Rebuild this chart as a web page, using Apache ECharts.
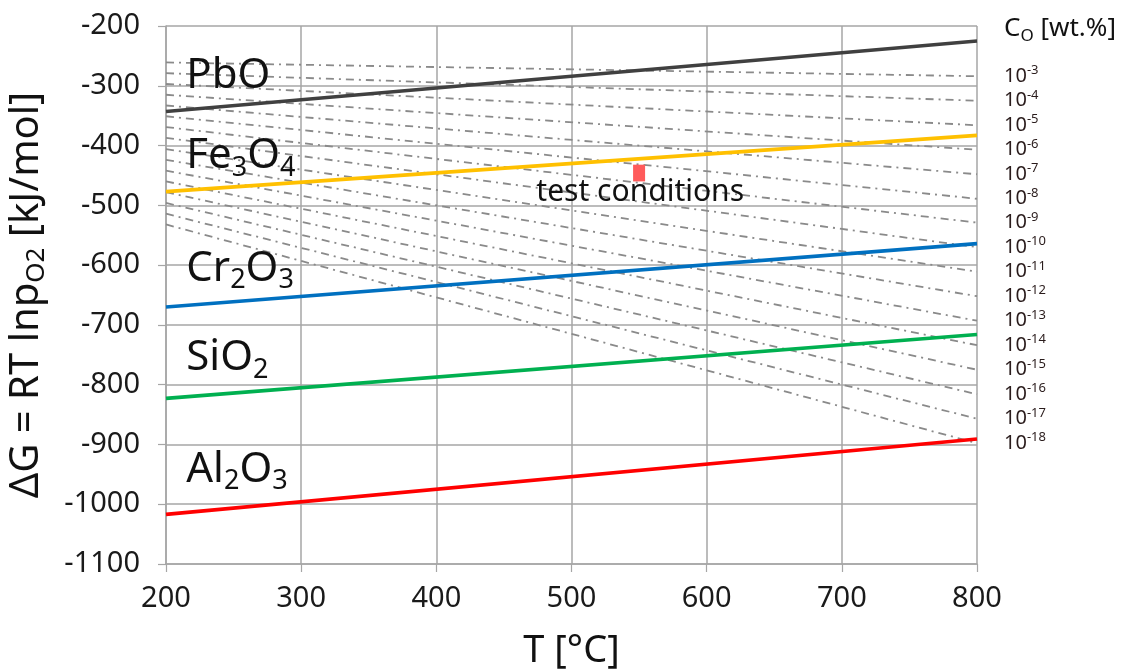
<!DOCTYPE html>
<html>
<head>
<meta charset="utf-8">
<script src="https://cdn.jsdelivr.net/npm/echarts@6/dist/echarts.min.js"></script>
<style>
  html, body { margin: 0; padding: 0; background: #fff; }
  #chart { width: 1137px; height: 670px; }
</style>
</head>
<body>
<div id="chart"></div>
<script>
// temperature range of every line [°C]
const temps = [200, 800];

// oxide formation lines, dG at 200 and 800 °C [kJ/mol]
const oxides = ['PbO', 'Fe3O4', 'Cr2O3', 'SiO2', 'Al2O3'];
const oxideStart = [-343, -477, -670, -823, -1017];
const oxideEnd = [-225, -383, -564, -716, -891];

// oxygen concentration iso-lines (10^-3 ... 10^-18 wt.%)
const concExp = ['-3', '-4', '-5', '-6', '-7', '-8', '-9', '-10', '-11', '-12', '-13', '-14', '-15', '-16', '-17', '-18'];
const concStart = [-261, -279, -297, -315, -333, -351, -369, -387, -406, -424, -442, -460, -478, -496, -514, -532];
const concEnd = [-284, -325, -366, -407, -448, -489, -529, -570, -611, -652, -693, -734, -775, -816, -857, -898];

// test conditions marker
const testT = 550;
const testRange = [-432, -460];

const xTicks = [200, 300, 400, 500, 600, 700, 800];
const yTicks = [-1100, -1000, -900, -800, -700, -600, -500, -400, -300, -200];

const oxideColors = ['#404040', '#FFC000', '#0070C0', '#00B050', '#FF0000'];
const oxideText = ['PbO', 'Fe{s|3}O{s|4}', 'Cr{s|2}O{s|3}', 'SiO{s|2}', 'Al{s|2}O{s|3}'];
const oxideLabelAt = [[215, -284], [215, -418], [215, -606], [215, -756], [215, -942]];

const FONT = '"Noto Sans", "DejaVu Sans", sans-serif';

const chart = echarts.init(document.getElementById('chart'));

const series = [];

concExp.forEach((e, i) => {
  series.push({
    type: 'line',
    data: [[temps[0], concStart[i]], [temps[1], concEnd[i]]],
    symbol: 'none',
    silent: true,
    z: 2,
    lineStyle: { color: '#8a8a8a', width: 1.8, type: [8, 5, 2, 5] },
    endLabel: {
      show: true,
      distance: 27,
      formatter: () => '10{sup|' + e + '}',
      fontFamily: FONT,
      fontSize: 20,
      color: '#2a1c1c',
      rich: {
        sup: { fontSize: 13, fontFamily: FONT, color: '#2a1c1c', padding: [0, 0, 11, 0] }
      }
    }
  });
});

oxides.forEach((name, i) => {
  series.push({
    type: 'line',
    name: name,
    data: [[temps[0], oxideStart[i]], [temps[1], oxideEnd[i]]],
    symbol: 'none',
    silent: true,
    z: 4,
    lineStyle: { color: oxideColors[i], width: 3.6 }
  });
});

// oxide names
series.push({
  type: 'scatter',
  symbolSize: 0,
  silent: true,
  z: 5,
  itemStyle: { opacity: 1 },
  data: oxideLabelAt.map((p, i) => ({
    value: p,
    label: {
      show: true,
      position: 'right',
      distance: 0,
      formatter: oxideText[i],
      fontFamily: FONT,
      fontSize: 42,
      color: '#111',
      rich: {
        s: { fontSize: 27, fontFamily: FONT, color: '#111', padding: [24, 0, 0, 0] }
      }
    }
  }))
});

// test conditions
series.push({
  type: 'line',
  data: [[testT, testRange[0]], [testT, testRange[1]]],
  symbol: 'none',
  silent: true,
  z: 6,
  lineStyle: { color: '#FF5B5B', width: 12, cap: 'butt' }
});
series.push({
  type: 'scatter',
  symbolSize: 0,
  silent: true,
  z: 6,
  itemStyle: { opacity: 1 },
  data: [{
    value: [474, -479],
    label: {
      show: true, position: 'right', distance: 0,
      formatter: 'test conditions',
      fontFamily: FONT, fontSize: 30, color: '#111'
    }
  }]
});

chart.setOption({
  animation: false,
  backgroundColor: '#fff',
  grid: { left: 166, right: 160, top: 26, bottom: 106, containLabel: false, outerBoundsMode: 'none' },
  xAxis: {
    type: 'value',
    min: 200, max: 800, interval: 100,
    name: 'T [°C]',
    nameLocation: 'middle',
    nameGap: 68,
    nameTextStyle: { fontFamily: FONT, fontSize: 38, color: '#111' },
    axisLine: { show: true, lineStyle: { color: '#a6a6a6', width: 1.5 } },
    axisTick: { show: true, length: 8, lineStyle: { color: '#a6a6a6', width: 1.2 } },
    axisLabel: {
      margin: 20, fontFamily: FONT, fontSize: 29, color: '#1a1a1a',
      formatter: v => xTicks.includes(v) ? String(v) : ''
    },
    splitLine: { show: true, lineStyle: { color: '#a6a6a6', width: 1.5 } }
  },
  yAxis: {
    type: 'value',
    min: -1100, max: -200, interval: 100,
    name: 'ΔG = RT lnp{s|O2} [kJ/mol]',
    nameLocation: 'middle',
    nameRotate: 90,
    nameGap: 116,
    nameTextStyle: {
      fontFamily: FONT, fontSize: 40, color: '#111',
      rich: { s: { fontFamily: FONT, fontSize: 26, color: '#111', padding: [20, 0, 0, 0] } }
    },
    axisLine: { show: true, lineStyle: { color: '#a6a6a6', width: 1.5 } },
    axisTick: { show: true, length: 8, lineStyle: { color: '#a6a6a6', width: 1.2 } },
    axisLabel: {
      margin: 26, fontFamily: FONT, fontSize: 29, color: '#1a1a1a',
      formatter: v => yTicks.includes(v) ? String(v) : ''
    },
    splitLine: { show: true, lineStyle: { color: '#a6a6a6', width: 1.5 } }
  },
  graphic: [{
    type: 'text',
    left: 1004,
    top: 16,
    style: {
      text: 'C{s|O} [wt.%]',
      fontFamily: FONT,
      fontSize: 26,
      fill: '#111',
      rich: { s: { fontFamily: FONT, fontSize: 17, fill: '#111', padding: [14, 0, 0, 0] } }
    }
  }],
  series: series
});
</script>
</body>
</html>
